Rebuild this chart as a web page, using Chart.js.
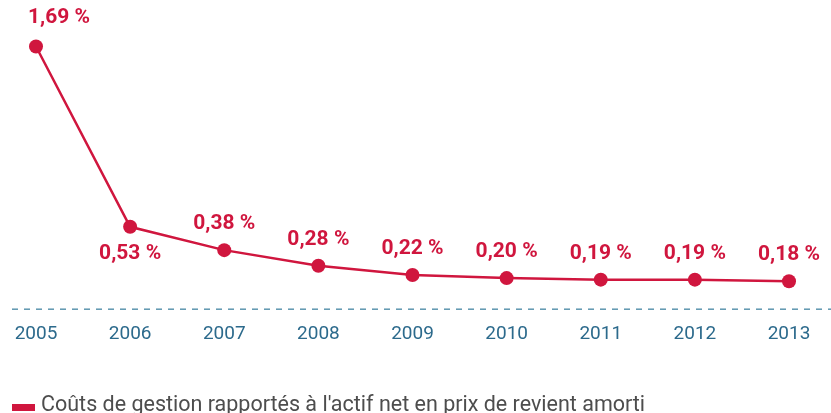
<!DOCTYPE html>
<html>
<head>
<meta charset="utf-8">
<script src="https://cdn.jsdelivr.net/npm/chart.js@4"></script>
<style>
  body { margin: 0; background: #fff; }
  #wrap { position: relative; width: 831px; height: 413px; overflow: hidden; }
  #legend { position: absolute; left: 12px; top: 392px; font: 21.5px Roboto, sans-serif; color: #4d4d4d; white-space: nowrap; line-height: 24px; }
  #legend span { display: inline-block; width: 23px; height: 7px; background: #d0163e; margin-right: 6px; vertical-align: 0px; }
</style>
</head>
<body>
<div id="wrap">
  <canvas id="chart" width="831" height="413"></canvas>
  <div id="legend"><span></span>Coûts de gestion rapportés à l'actif net en prix de revient amorti</div>
</div>
<script>
const years = ['2005', '2006', '2007', '2008', '2009', '2010', '2011', '2012', '2013'];
const costs = [1.69, 0.53, 0.38, 0.28, 0.22, 0.20, 0.19, 0.19, 0.18];
const seriesName = "Coûts de gestion rapportés à l'actif net en prix de revient amorti";

const red = '#d0163e';

// value labels next to each point
const valueLabels = {
  id: 'valueLabels',
  afterDatasetsDraw(chart) {
    const ctx = chart.ctx;
    const meta = chart.getDatasetMeta(0);
    ctx.save();
    ctx.font = 'bold 21px Roboto, sans-serif';
    ctx.fillStyle = red;
    ctx.textAlign = 'center';
    ctx.textBaseline = 'middle';
    meta.data.forEach((pt, i) => {
      const txt = costs[i].toFixed(2).replace('.', ',') + ' %';
      let dx = 0, dy = -26;
      if (i === 0) { dx = 23; dy = -29; }
      if (i === 1) { dy = 27; }
      ctx.fillText(txt, pt.x + dx, pt.y + dy);
    });
    ctx.restore();
  }
};

// dashed baseline at zero
const zeroLine = {
  id: 'zeroLine',
  beforeDatasetsDraw(chart) {
    const ctx = chart.ctx;
    const y = chart.scales.y.getPixelForValue(0);
    ctx.save();
    ctx.strokeStyle = '#5e97b0';
    ctx.lineWidth = 1.5;
    ctx.setLineDash([6, 6]);
    ctx.beginPath();
    ctx.moveTo(12, y);
    ctx.lineTo(831, y);
    ctx.stroke();
    ctx.restore();
  }
};

new Chart(document.getElementById('chart'), {
  type: 'line',
  data: {
    labels: years,
    datasets: [{
      label: seriesName,
      data: costs,
      borderColor: red,
      backgroundColor: red,
      borderWidth: 2.5,
      pointRadius: 7,
      pointHoverRadius: 7,
      pointBackgroundColor: red,
      pointBorderWidth: 0,
      tension: 0
    }]
  },
  options: {
    responsive: false,
    animation: false,
    layout: { padding: { left: 36, right: 42, top: 17, bottom: 61 } },
    plugins: { legend: { display: false }, tooltip: { enabled: false } },
    scales: {
      x: {
        offset: false,
        grid: { display: false },
        border: { display: false },
        ticks: { color: '#2c6a8c', font: { family: 'Roboto', size: 19 }, padding: 6, maxRotation: 0, autoSkip: false }
      },
      y: {
        display: false,
        min: 0,
        max: 1.88
      }
    }
  },
  plugins: [zeroLine, valueLabels]
});
</script>
</body>
</html>
